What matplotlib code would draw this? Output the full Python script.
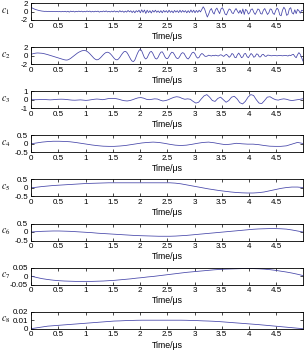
import matplotlib
matplotlib.use('Agg')
import matplotlib.pyplot as plt
import numpy as np
from matplotlib.ticker import FormatStrFormatter

plt.rcParams['font.family'] = ['Liberation Sans', 'DejaVu Sans']
plt.rcParams['axes.unicode_minus'] = False
plt.rcParams['mathtext.fontset'] = 'stix'

# Dados
T_END = 4.99

c1 = [1.0, 0.8, 0.65, 0.5, 0.4, 0.3, 0.22, 0.15, 0.1, 0.06, 0.03, 0.05, 0.0, 0.04, -0.02, 0.03, -0.03, 0.02, -0.04, 0.03,
      -0.05, 0.02, -0.08, 0.04, -0.06, 0.05, -0.1, 0.06, -0.15, 0.1, -0.05, 0.08, -0.12, 0.05, -0.06, 0.1, -0.05, 0.08, -0.1, 0.05,
      -0.08, 0.12, -0.05, 0.1, -0.12, 0.06, -0.1, 0.08, -0.05, 0.1, -0.15, 0.05, -0.08, 0.12, -0.06, 0.15, -0.1, 0.05, -0.12, 0.1,
      -0.1, 0.15, -0.12, 0.08, -0.15, 0.2, -0.1, 0.12, -0.2, 0.1, -0.15, 0.25, -0.1, 0.18, -0.25, 0.15, -0.3, 0.2, -0.1, 0.3,
      -0.3, 0.4, -0.2, 0.35, -0.45, 0.3, -0.25, 0.2, -0.35, 0.25, -0.15, 0.3, -0.2, 0.15, -0.25, 0.2, -0.3, 0.25, -0.15, 0.2,
      -0.25, 0.3, -0.2, 0.15, -0.3, 0.25, -0.15, 0.2, -0.25, 0.3, -0.2, 0.25, -0.15, 0.2, -0.3, 0.2, -0.25, 0.35, -0.2, 0.3,
      -0.3, 0.25, -0.2, 0.3, -0.1, 0.5, 1.1, 0.6, -0.4, -1.3, -0.6, 0.3, 0.7, -0.2, -0.6, 0.4, 0.8, 0.1, -0.5, 0.6,
      0.9, 0.3, -0.6, -0.8, 0.0, 0.6, 0.4, -0.3, -0.5, 0.2, 0.7, 0.1, -0.4, 0.3, -0.5, 0.6, -0.7, 0.5, 0.2, -0.6,
      -0.3, 0.5, 0.6, -0.2, -0.7, -0.1, 0.6, 0.4, -0.5, -0.6, 0.3, 0.7, 0.0, -0.7, -0.3, 0.6, 0.5, -0.4, -0.7, 0.2,
      0.8, 0.4, -0.8, -1.0, 0.3, 1.0, 0.5, -0.9, -0.7, 0.6, 0.9, -0.3, -0.6, 0.4, -0.5, 0.5, 0.2, -0.4, 0.3, 0.2]

c2 = [0.3, 0.4, 0.5, 0.55, 0.6, 0.62, 0.6, 0.58, 0.55, 0.5, 0.42, 0.35, 0.25, 0.15, 0.05, -0.05, -0.15, -0.25, -0.35, -0.45,
      -0.55, -0.65, -0.75, -0.85, -0.95, -1.02, -1.05, -1.0, -0.85, -0.65, -0.4, -0.15, 0.1, 0.35, 0.6, 0.8, 0.95, 1.1, 1.18, 1.2,
      1.15, 1.0, 0.75, 0.45, 0.1, -0.25, -0.6, -0.85, -1.0, -0.95, -0.75, -0.45, -0.1, 0.25, 0.55, 0.75, 0.8, 0.7, 0.45, 0.1,
      -0.3, -0.7, -0.95, -1.0, -0.8, -0.4, 0.1, 0.55, 0.9, 1.0, 0.8, 0.3, -0.3, -0.9, -1.3, -1.4, -1.0, -0.2, 0.6, 1.2,
      1.5, 1.1, 0.3, -0.5, -0.8, -0.5, 0.2, 0.8, 1.0, 0.6, -0.1, -0.7, -0.8, -0.4, 0.3, 0.8, 0.9, 0.4, -0.3, -0.7,
      -0.7, -0.2, 0.4, 0.8, 0.7, 0.2, -0.4, -0.7, -0.6, -0.1, 0.5, 0.7, 0.5, -0.1, -0.6, -0.8, -0.4, 0.2, 0.7, 0.8,
      0.4, -0.3, -0.6, -0.4, 0.2, 0.5, 0.3, -0.1, -0.2, -0.1, 0.1, 0.0, -0.1, 0.05, -0.05, 0.1, 0.0, -0.1, 0.1, 0.2,
      0.0, -0.2, 0.1, 0.3, 0.0, -0.4, -0.1, 0.5, 0.3, -0.4, -0.5, 0.2, 0.6, 0.1, -0.5, -0.3, 0.4, 0.5, -0.2, -0.5,
      0.0, 0.5, 0.2, -0.4, -0.2, 0.4, 0.3, -0.3, -0.3, 0.2, 0.3, -0.1, -0.2, 0.1, 0.1, 0.0, -0.05, 0.0, 0.05, 0.0,
      -0.05, 0.0, 0.05, 0.0, -0.05, 0.0, 0.05, 0.0, -0.1, 0.1, 0.0, 0.2, 0.3, -0.2, -0.5, 0.2, 0.7, 0.3, -0.5, -1.3]

c3 = [0.0, 0.0, 0.0, 0.01, 0.02, 0.02, 0.0, -0.02, 0.0, 0.03,
      0.05, 0.06, 0.05, 0.02, -0.02, -0.05, -0.06, -0.04, -0.02, -0.05,
      -0.08, -0.05, 0.0, 0.05, 0.08, 0.05, 0.0, 0.05, 0.12, 0.15,
      0.15, 0.12, 0.05, -0.05, -0.12, -0.15, -0.1, 0.0, 0.12, 0.22,
      0.25, 0.18, 0.05, 0.0, 0.05, 0.1, 0.08, -0.05, -0.15, -0.1,
      0.0, 0.15, 0.28, 0.35, 0.3, 0.15, 0.05, 0.1, 0.05, -0.2,
      -0.4, -0.3, 0.1, 0.45, 0.6, 0.3, -0.1, -0.2, 0.15, 0.3,
      0.0, -0.3, -0.1, 0.3, 0.4, 0.1, -0.35, -0.5, -0.2, 0.3,
      0.6, 0.5, 0.0, -0.4, -0.45, -0.1, 0.3, 0.35, 0.15, 0.0,
      -0.05, 0.05, 0.1, 0.05, -0.05, -0.1, -0.05, 0.0, 0.05, 0.12]

c4 = [0.0, 0.05, 0.1, 0.13, 0.15, 0.15, 0.14, 0.12, 0.08, 0.03,
      -0.02, -0.07, -0.11, -0.14, -0.15, -0.15, -0.13, -0.1, -0.05, 0.0,
      0.05, 0.08, 0.1, 0.08, 0.03, -0.03, -0.08, -0.1, -0.08, -0.03,
      0.03, 0.08, 0.1, 0.06, 0.0, -0.05, -0.02, 0.03, 0.0, -0.02,
      -0.02, -0.05, -0.1, -0.14, -0.15, -0.15, -0.12, -0.02, 0.08, 0.02]

c5 = [0.0, 0.04, 0.08, 0.11, 0.14, 0.16, 0.18, 0.2, 0.22, 0.24,
      0.26, 0.27, 0.28, 0.29, 0.3, 0.3, 0.3, 0.3, 0.3, 0.3,
      0.3, 0.3, 0.3, 0.3, 0.3, 0.3, 0.28, 0.24, 0.18, 0.12,
      0.06, 0.0, -0.06, -0.11, -0.16, -0.2, -0.24, -0.27, -0.29, -0.3,
      -0.3, -0.28, -0.24, -0.17, -0.1, -0.03, 0.02, 0.05, 0.05, 0.02]

c6 = [0.0, 0.02, 0.04, 0.05, 0.06, 0.06, 0.05, 0.04, 0.02, 0.0,
      -0.02, -0.04, -0.07, -0.09, -0.11, -0.13, -0.15, -0.17, -0.19, -0.21,
      -0.22, -0.23, -0.24, -0.25, -0.25, -0.25, -0.24, -0.22, -0.2, -0.17,
      -0.14, -0.11, -0.08, -0.05, -0.02, 0.01, 0.04, 0.07, 0.1, 0.13,
      0.16, 0.18, 0.19, 0.2, 0.2, 0.19, 0.17, 0.12, 0.06, 0.0]

c7 = [0.0, -0.008, -0.015, -0.02, -0.024, -0.027, -0.029, -0.03, -0.031, -0.031,
      -0.031, -0.031, -0.03, -0.029, -0.027, -0.025, -0.022, -0.019, -0.016, -0.012,
      -0.009, -0.005, -0.002, 0.002, 0.006, 0.01, 0.014, 0.018, 0.022, 0.025,
      0.028, 0.031, 0.034, 0.037, 0.039, 0.041, 0.042, 0.043, 0.044, 0.044,
      0.044, 0.043, 0.041, 0.038, 0.034, 0.029, 0.024, 0.018, 0.011, 0.003]

c8 = [0.0, 0.001, 0.002, 0.003, 0.0035, 0.004, 0.0045, 0.005, 0.0055, 0.006,
      0.0065, 0.007, 0.0075, 0.008, 0.0085, 0.009, 0.0092, 0.0095, 0.0097, 0.0099,
      0.01, 0.01, 0.01, 0.01, 0.01, 0.01, 0.01, 0.01, 0.0099, 0.0097,
      0.0095, 0.0092, 0.009, 0.0087, 0.0083, 0.0078, 0.0073, 0.0068, 0.0063, 0.0058,
      0.0053, 0.0048, 0.0042, 0.0036, 0.003, 0.0024, 0.0018, 0.0012, 0.0006, 0.0]

sinais = [c1, c2, c3, c4, c5, c6, c7, c8]
rotulos = ['$c_1$', '$c_2$', '$c_3$', '$c_4$', '$c_5$', '$c_6$', '$c_7$', '$c_8$']
yticks = [[-2, 0, 2], [-2, 0, 2], [-1, 0, 1], [-0.5, 0, 0.5],
          [-0.5, 0, 0.5], [-0.5, 0, 0.5], [-0.05, 0, 0.05], [0, 0.01, 0.02]]
xticks = [0, 0.5, 1, 1.5, 2, 2.5, 3, 3.5, 4, 4.5]

# Figura
W, H = 307, 352
fig = plt.figure(figsize=(W / 100, H / 100), dpi=100)

for i, sinal in enumerate(sinais):
    topo = 3 + 44.1 * i
    altura = 17
    ax = fig.add_axes([31 / W, 1 - (topo + altura) / H, 272 / W, altura / H])
    t = np.linspace(0, T_END, len(sinal))
    ax.plot(t, sinal, color='#4343a8', linewidth=0.55)
    ax.set_xlim(0, T_END)
    ax.set_ylim(yticks[i][0], yticks[i][-1])
    ax.set_xticks(xticks)
    ax.set_yticks(yticks[i])
    ax.xaxis.set_major_formatter(FormatStrFormatter('%g'))
    ax.yaxis.set_major_formatter(FormatStrFormatter('%g'))
    ax.tick_params(direction='in', length=2, width=0.5, labelsize=5.8,
                   top=True, right=True, pad=2)
    for s in ax.spines.values():
        s.set_linewidth(0.6)
    ax.set_xlabel('Time/μs', fontsize=6.3, labelpad=1.5)
    ax.set_ylabel(rotulos[i], rotation=0, fontsize=7, ha='center', va='center')
    ax.yaxis.set_label_coords(-0.092, 0.5)

fig.savefig('out.png', dpi=100)
